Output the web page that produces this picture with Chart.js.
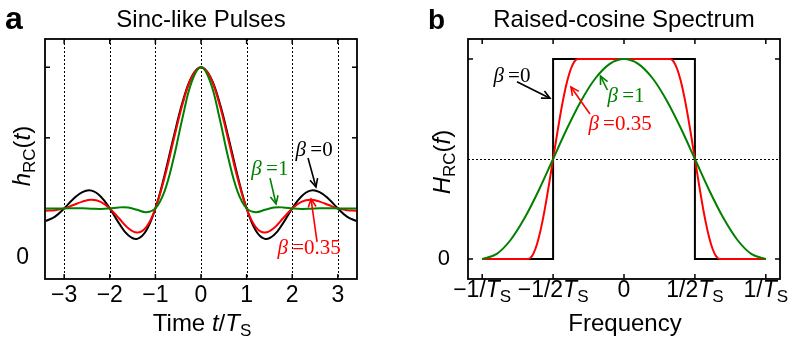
<!DOCTYPE html>
<html>
<head>
<meta charset="utf-8">
<script src="https://cdn.jsdelivr.net/npm/chart.js@4.4.1/dist/chart.umd.min.js"></script>
<style>
  html, body { margin: 0; padding: 0; background: #fff; }
  #wrap { position: relative; width: 795px; height: 337px; }
  .panel { position: absolute; top: 0; height: 337px; }
  #pa { left: 0; width: 400px; }
  #pb { left: 400px; width: 395px; }
</style>
</head>
<body>
<div id="wrap">
  <div class="panel" id="pa"><canvas id="chartA"></canvas></div>
  <div class="panel" id="pb"><canvas id="chartB"></canvas></div>
</div>
<script>
// ---- panel a: pulses h(t) ----
const timeT = [-3.4, -3.2, -3.0, -2.8, -2.6, -2.4, -2.2, -2.0, -1.8, -1.6, -1.4, -1.2, -1.0, -0.8, -0.6, -0.4, -0.2,
  0, 0.2, 0.4, 0.6, 0.8, 1.0, 1.2, 1.4, 1.6, 1.8, 2.0, 2.2, 2.4, 2.6, 2.8, 3.0, 3.2, 3.4];
const pulseB0 = [-0.089, -0.058, 0, 0.067, 0.116, 0.126, 0.085, 0, -0.104, -0.189, -0.216, -0.156, 0, 0.234, 0.505, 0.757, 0.935,
  1, 0.935, 0.757, 0.505, 0.234, 0, -0.156, -0.216, -0.189, -0.104, 0, 0.085, 0.126, 0.116, 0.067, 0, -0.058, -0.089];
const pulseB35 = [-0.016, -0.013, 0, 0.024, 0.048, 0.061, 0.046, 0, -0.070, -0.139, -0.171, -0.132, 0, 0.217, 0.484, 0.743, 0.931,
  1, 0.931, 0.743, 0.484, 0.217, 0, -0.132, -0.171, -0.139, -0.070, 0, 0.046, 0.061, 0.048, 0.024, 0, -0.013, -0.016];
const pulseB1 = [-0.001, -0.001, 0, 0.002, 0.001, -0.002, -0.004, 0, 0.007, 0.006, -0.010, -0.027, 0, 0.121, 0.355, 0.650, 0.900,
  1, 0.900, 0.650, 0.355, 0.121, 0, -0.027, -0.010, 0.006, 0.007, 0, -0.004, -0.002, 0.001, 0.002, 0, -0.001, -0.001];
const timeTicks = [-3, -2, -1, 0, 1, 2, 3];
const timeTickLabels = ['\u22123', '\u22122', '\u22121', '0', '1', '2', '3'];
const pulseTickMarks = [0.5, 1];
const pulseZeroLabelAt = -0.35;   // the "0" label sits below the curves' baseline in the original

// ---- panel b: spectrum H(f) ----
const freqF0 = [-1, -0.5, -0.5, 0.5, 0.5, 1];
const specB0 = [0, 0, 1, 1, 0, 0];
const freqF35 = [-1, -0.675, -0.65, -0.625, -0.6, -0.575, -0.55, -0.525, -0.5, -0.475, -0.45, -0.425, -0.4, -0.375, -0.35, -0.325,
  0.325, 0.35, 0.375, 0.4, 0.425, 0.45, 0.475, 0.5, 0.525, 0.55, 0.575, 0.6, 0.625, 0.65, 0.675, 1];
const specB35 = [0, 0, 0.013, 0.050, 0.109, 0.188, 0.283, 0.389, 0.5, 0.611, 0.717, 0.812, 0.891, 0.950, 0.987, 1,
  1, 0.987, 0.950, 0.891, 0.812, 0.717, 0.611, 0.5, 0.389, 0.283, 0.188, 0.109, 0.050, 0.013, 0, 0];
const freqF1 = [-1, -0.9, -0.8, -0.7, -0.6, -0.5, -0.4, -0.3, -0.2, -0.1, 0, 0.1, 0.2, 0.3, 0.4, 0.5, 0.6, 0.7, 0.8, 0.9, 1];
const specB1 = [0, 0.024, 0.095, 0.206, 0.345, 0.5, 0.655, 0.794, 0.905, 0.976, 1, 0.976, 0.905, 0.794, 0.655, 0.5, 0.345, 0.206, 0.095, 0.024, 0];
const freqTicks = [-1, -0.5, 0, 0.5, 1];
const freqTickLabels = ['\u22121/{i:T}{s:S}', '\u22121/2{i:T}{s:S}', '0', '1/2{i:T}{s:S}', '1/{i:T}{s:S}'];
const specTickMarks = [0, 1];
const specDotLines = [0.5];

const RED = '#ff0000';
const GREEN = '#008000';
const SANS = '"Liberation Sans", Arial, sans-serif';
const SERIF = '"Liberation Serif", "Times New Roman", serif';

function toXY(xs, ys) {
  return xs.map((x, i) => ({ x: x, y: ys[i] }));
}

// tiny markup: {i:..} italic, {s:..} subscript
function parseRich(str) {
  const out = [];
  const re = /\{([is]):([^}]*)\}/g;
  let last = 0, m;
  while ((m = re.exec(str))) {
    if (m.index > last) out.push({ t: str.slice(last, m.index), k: '' });
    out.push({ t: m[2], k: m[1] });
    last = re.lastIndex;
  }
  if (last < str.length) out.push({ t: str.slice(last), k: '' });
  return out;
}

function drawRich(ctx, str, x, y, size, family, color, align) {
  const segs = parseRich(str);
  const fontOf = s => (s.k === 'i' ? 'italic ' : '') + (s.k === 's' ? Math.round(size * 0.72) : size) + 'px ' + family;
  let w = 0;
  segs.forEach(s => { ctx.font = fontOf(s); s.w = ctx.measureText(s.t).width; w += s.w; });
  let cx = align === 'left' ? x : x - w / 2;
  ctx.fillStyle = color;
  ctx.textAlign = 'left';
  ctx.textBaseline = 'alphabetic';
  segs.forEach(s => {
    ctx.font = fontOf(s);
    ctx.fillText(s.t, cx, y + (s.k === 's' ? size * 0.22 : 0));
    cx += s.w;
  });
}

function seg(ctx, x1, y1, x2, y2) {
  ctx.beginPath(); ctx.moveTo(x1, y1); ctx.lineTo(x2, y2); ctx.stroke();
}

function arrow(ctx, x1, y1, x2, y2, color) {
  ctx.strokeStyle = color;
  ctx.lineWidth = 1.6;
  ctx.setLineDash([]);
  seg(ctx, x1, y1, x2, y2);
  const ang = Math.atan2(y2 - y1, x2 - x1);
  const L = 9, sp = 0.45;
  ctx.beginPath();
  ctx.moveTo(x2 - L * Math.cos(ang - sp), y2 - L * Math.sin(ang - sp));
  ctx.lineTo(x2, y2);
  ctx.lineTo(x2 - L * Math.cos(ang + sp), y2 - L * Math.sin(ang + sp));
  ctx.stroke();
}

function decor(spec) {
  return {
    id: 'decor',
    beforeDatasetsDraw(chart) {
      const { ctx, chartArea: a, scales: { x, y } } = chart;
      ctx.save();
      ctx.strokeStyle = '#000';
      ctx.lineWidth = 1;
      ctx.setLineDash([2, 2]);
      spec.vDots.forEach(v => {
        const px = Math.round(x.getPixelForValue(v)) + 0.5;
        seg(ctx, px, a.top, px, a.bottom);
      });
      spec.hDots.forEach(v => {
        const py = Math.round(y.getPixelForValue(v)) + 0.5;
        seg(ctx, a.left, py, a.right, py);
      });
      ctx.restore();
    },
    afterDraw(chart) {
      const { ctx, chartArea: a, scales: { x, y } } = chart;
      ctx.save();
      // frame and inward ticks
      ctx.strokeStyle = '#000';
      ctx.setLineDash([]);
      ctx.lineWidth = 1.5;
      spec.xMarks.forEach(v => {
        const px = x.getPixelForValue(v);
        seg(ctx, px, a.bottom, px, a.bottom - 5);
        seg(ctx, px, a.top, px, a.top + 5);
      });
      spec.yMarks.forEach(v => {
        const py = y.getPixelForValue(v);
        seg(ctx, a.left, py, a.left + 5, py);
        seg(ctx, a.right, py, a.right - 5, py);
      });
      ctx.lineWidth = 1.8;
      ctx.strokeRect(a.left, a.top, a.right - a.left, a.bottom - a.top);

      // x tick labels (mixed italic / subscript)
      spec.xLabels.forEach((lab, i) => {
        drawRich(ctx, lab, x.getPixelForValue(spec.xLabelAt[i]), a.bottom + spec.xLabelDrop, spec.xLabelSize, SANS, '#000', 'center');
      });

      // titles, panel letter, axis titles
      const midX = (a.left + a.right) / 2;
      drawRich(ctx, spec.title, midX, 27, 24, SANS, '#000', 'center');
      ctx.font = 'bold ' + spec.letterSize + 'px ' + SANS;
      ctx.fillStyle = '#000';
      ctx.textAlign = 'left';
      ctx.textBaseline = 'alphabetic';
      ctx.fillText(spec.letter, spec.letterX, 29);
      drawRich(ctx, spec.xTitle, midX + spec.xTitleShift, 331, 24, SANS, '#000', 'center');
      ctx.save();
      ctx.translate(a.left - spec.yTitleGap, (a.top + a.bottom) / 2 + spec.yTitleShift);
      ctx.rotate(-Math.PI / 2);
      drawRich(ctx, spec.yTitle, 0, 8, 24, SANS, '#000', 'center');
      ctx.restore();

      // beta annotations
      spec.notes.forEach(n => {
        arrow(ctx, x.getPixelForValue(n.from[0]), y.getPixelForValue(n.from[1]),
          x.getPixelForValue(n.to[0]), y.getPixelForValue(n.to[1]), n.color);
        drawRich(ctx, n.text, x.getPixelForValue(n.at[0]), y.getPixelForValue(n.at[1]), 21, SERIF, n.color, 'center');
      });
      ctx.restore();
    }
  };
}

const tickFont = size => ({ family: SANS, size: size });

new Chart(document.getElementById('chartA'), {
  type: 'line',
  data: {
    datasets: [
      { label: '\u03b2=1', data: toXY(timeT, pulseB1), borderColor: GREEN },
      { label: '\u03b2=0.35', data: toXY(timeT, pulseB35), borderColor: RED },
      { label: '\u03b2=0', data: toXY(timeT, pulseB0), borderColor: '#000' }
    ]
  },
  options: {
    responsive: true,
    maintainAspectRatio: false,
    animation: false,
    layout: { padding: { top: 39, right: 43, left: 0, bottom: 0 }, autoPadding: false },
    plugins: { legend: { display: false }, tooltip: { enabled: false } },
    elements: { point: { radius: 0 }, line: { borderWidth: 2, tension: 0.4, fill: false } },
    scales: {
      x: {
        type: 'linear', min: -3.42, max: 3.42,
        grid: { display: false }, border: { display: false },
        afterBuildTicks: s => { s.ticks = timeTicks.map(v => ({ value: v })); },
        afterFit: s => { s.height = 58; },
        ticks: { display: false }
      },
      y: {
        type: 'linear', min: -0.5, max: 1.2,
        grid: { display: false }, border: { display: false },
        afterBuildTicks: s => { s.ticks = [{ value: pulseZeroLabelAt }]; },
        afterFit: s => { s.width = 45; },
        ticks: { font: tickFont(23), color: '#000', padding: 8, callback: () => '0' }
      }
    }
  },
  plugins: [decor({
    title: 'Sinc-like Pulses', letter: 'a', letterSize: 32, letterX: 5,
    xTitle: 'Time {i:t}/{i:T}{s:S}', xTitleShift: 1,
    yTitle: '{i:h}{s:RC}({i:t})', yTitleGap: 23, yTitleShift: -3,
    vDots: timeTicks, hDots: [], xMarks: timeTicks, yMarks: pulseTickMarks,
    xLabels: timeTickLabels, xLabelAt: timeTicks, xLabelDrop: 23, xLabelSize: 23,
    notes: [
      { text: '{i:\u03b2}\u2009=0', color: '#000', at: [2.48, 0.371], from: [2.346, 0.357], to: [2.52, 0.152] },
      { text: '{i:\u03b2}\u2009=1', color: GREEN, at: [1.51, 0.237], from: [1.513, 0.215], to: [1.645, 0.031] },
      { text: '{i:\u03b2}\u2009=0.35', color: RED, at: [2.37, -0.323], from: [2.544, -0.237], to: [2.412, 0.067] }
    ]
  })]
});

new Chart(document.getElementById('chartB'), {
  type: 'line',
  data: {
    datasets: [
      { label: '\u03b2=1', data: toXY(freqF1, specB1), borderColor: GREEN, cubicInterpolationMode: 'monotone' },
      { label: '\u03b2=0.35', data: toXY(freqF35, specB35), borderColor: RED, cubicInterpolationMode: 'monotone' },
      { label: '\u03b2=0', data: toXY(freqF0, specB0), borderColor: '#000', tension: 0 }
    ]
  },
  options: {
    responsive: true,
    maintainAspectRatio: false,
    animation: false,
    layout: { padding: { top: 39, right: 15, left: 0, bottom: 0 }, autoPadding: false },
    plugins: { legend: { display: false }, tooltip: { enabled: false } },
    elements: { point: { radius: 0 }, line: { borderWidth: 2, fill: false } },
    scales: {
      x: {
        type: 'linear', min: -1.1, max: 1.1,
        grid: { display: false }, border: { display: false },
        afterFit: s => { s.height = 58; },
        ticks: { display: false }
      },
      y: {
        type: 'linear', min: -0.1, max: 1.1,
        grid: { display: false }, border: { display: false },
        afterBuildTicks: s => { s.ticks = [{ value: 0 }]; },
        afterFit: s => { s.width = 68; },
        ticks: { font: tickFont(22), color: '#000', padding: 10, callback: () => '0' }
      }
    }
  },
  plugins: [decor({
    title: 'Raised-cosine Spectrum', letter: 'b', letterSize: 28, letterX: 28,
    xTitle: 'Frequency', xTitleShift: 1,
    yTitle: '{i:H}{s:RC}({i:f})', yTitleGap: 26, yTitleShift: 3,
    vDots: [], hDots: specDotLines, xMarks: freqTicks, yMarks: specTickMarks,
    xLabels: freqTickLabels, xLabelAt: freqTicks, xLabelDrop: 18, xLabelSize: 23,
    notes: [
      { text: '{i:\u03b2}\u2009=0', color: '#000', at: [-0.79, 0.885], from: [-0.755, 0.886], to: [-0.522, 0.804] },
      { text: '{i:\u03b2}\u2009=1', color: GREEN, at: [0.014, 0.785], from: [-0.117, 0.845], to: [-0.166, 0.915] },
      { text: '{i:\u03b2}\u2009=0.35', color: RED, at: [-0.028, 0.645], from: [-0.24, 0.725], to: [-0.374, 0.86] }
    ]
  })]
});
</script>
</body>
</html>
